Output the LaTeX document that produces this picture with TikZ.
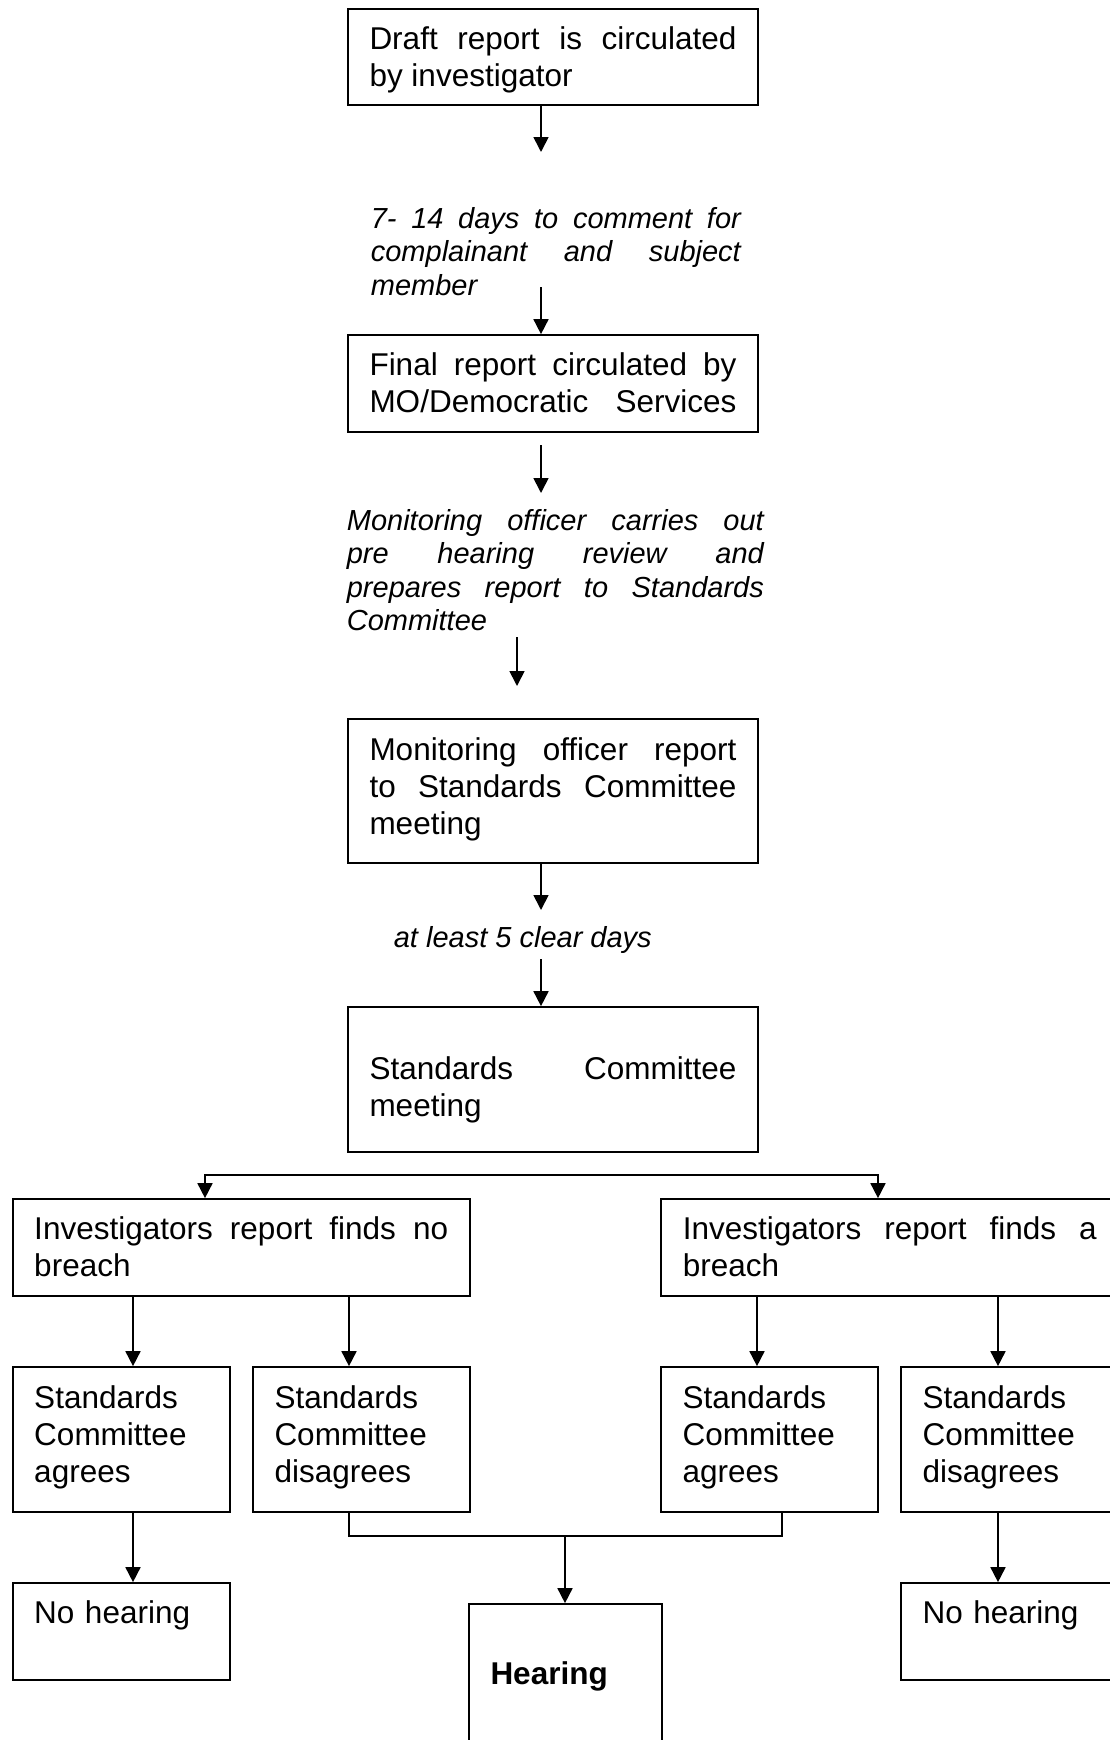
\documentclass[tikz,border=0pt]{standalone}
\usepackage{fontspec}
\setmainfont{Liberation Sans}
\usetikzlibrary{arrows.meta}
\hbadness=10000

\newcommand{\lnstrut}{\rule[-0.212em]{0pt}{1.117em}}
\newcommand{\padtop}[1]{\rule{0pt}{\dimexpr 0.905em+#1\relax}}
\newcommand{\padbot}[1]{\rule[\dimexpr -0.212em-#1\relax]{0pt}{0pt}}

\begin{document}
\begin{tikzpicture}[x=1pt, y=-1pt, line width=1.7pt,
  flowbox/.style={draw, inner xsep=21.5pt, inner ysep=0pt, align=justify,
    font=\fontsize{31.5pt}{37pt}\selectfont},
  widebox/.style={flowbox, text width=367pt},
  smallbox/.style={flowbox, text width=174pt, align=left},
  notetext/.style={anchor=base west, inner sep=0pt, align=justify,
    font=\fontsize{29pt}{33.6pt}\selectfont\itshape},
  flow/.style={-{Triangle[width=15pt,length=15pt]}},
  flows/.style={{Triangle[width=15pt,length=15pt]}-{Triangle[width=15pt,length=15pt]}}]
\useasboundingbox (0,0) rectangle (1110,1740);

\node [widebox, minimum height=96pt] (draft) at (553,57)
  {\lnstrut Draft report is circulated\linebreak by investigator\lnstrut};
\node [notetext, text width=370pt] (comment) at (370,228)
  {7- 14 days to comment for\linebreak complainant and subject\linebreak member};
\node [widebox, minimum height=97pt] (final) at (553,383.5)
  {\lnstrut Final report circulated by\linebreak MO/Democratic\hfill Services\lnstrut};
\node [notetext, text width=417pt] (review) at (346,530)
  {Monitoring officer carries out\linebreak pre hearing review and\linebreak prepares report to Standards\linebreak Committee};
\node [widebox, minimum height=144pt] (moreport) at (553,791)
  {\lnstrut Monitoring officer report\linebreak to Standards Committee\linebreak meeting\padbot{9pt}};
\node [notetext] (notice) at (393,947) {at least 5 clear days};
\node [widebox, minimum height=145pt] (meeting) at (553,1079.5)
  {\padtop{16pt}Standards Committee\linebreak meeting\lnstrut};

\node [flowbox, text width=414pt, minimum height=97pt] (nobreach) at (241.25,1247.5)
  {\lnstrut Investigators report finds no\linebreak breach\lnstrut};
\node [flowbox, text width=414pt, minimum height=97pt] (breach) at (889.75,1247.5)
  {\lnstrut Investigators report finds a\linebreak breach\lnstrut};

\node [smallbox, minimum height=145pt] (agreeno) at (121.25,1439.5)
  {\lnstrut Standards\\Committee\\agrees\padbot{9pt}};
\node [smallbox, minimum height=145pt] (disagreeno) at (361.5,1439.5)
  {\lnstrut Standards\\Committee\\disagrees\padbot{9pt}};
\node [smallbox, minimum height=145pt] (agreeyes) at (769.5,1439.5)
  {\lnstrut Standards\\Committee\\agrees\padbot{9pt}};
\node [smallbox, minimum height=145pt] (disagreeyes) at (1009.5,1439.5)
  {\lnstrut Standards\\Committee\\disagrees\padbot{9pt}};

\node [smallbox, minimum height=97pt] (nohearno) at (121.25,1631.5)
  {\lnstrut No hearing\\\lnstrut};
\node [smallbox, minimum height=97pt] (nohearyes) at (1009.5,1631.5)
  {\lnstrut No hearing\\\lnstrut};
\node [flowbox, text width=150pt, align=left, minimum height=140pt] (hearing) at (565.5,1674)
  {\lnstrut\bfseries Hearing\lnstrut};

\coordinate (a1) at (541,152);
\coordinate (a2) at (541,287);
\coordinate (a3) at (541,445);
\coordinate (a3e) at (541,493);
\coordinate (a4) at (517,637);
\coordinate (a4e) at (517,686);
\coordinate (a5) at (541,910);
\coordinate (a6) at (541,959);
\coordinate (splitno) at (205,1175);
\coordinate (splityes) at (878,1175);
\coordinate (colA) at (133,0);
\coordinate (colB) at (349,0);
\coordinate (colC) at (757,0);
\coordinate (colD) at (998,0);
\coordinate (colE) at (782,0);
\coordinate (merge) at (565,1536);

\draw [flow] ([xshift=-12pt]draft.south) -- (a1);
\draw [flow] (a2) -- (a2 |- final.north);
\draw [flow] (a3) -- (a3e);
\draw [flow] (a4) -- (a4e);
\draw [flow] ([xshift=-12pt]moreport.south) -- (a5);
\draw [flow] (a6) -- (a6 |- meeting.north);

\draw [flows] (splitno |- nobreach.north) -- (splitno) -- (splityes) -- (splityes |- breach.north);

\draw [flow] (nobreach.south -| colA) -- (agreeno.north -| colA);
\draw [flow] (nobreach.south -| colB) -- (disagreeno.north -| colB);
\draw [flow] (breach.south -| colC) -- (agreeyes.north -| colC);
\draw [flow] (breach.south -| colD) -- (disagreeyes.north -| colD);

\draw (disagreeno.south -| colB) |- (merge) -| (agreeyes.south -| colE);
\draw [flow] (merge) -- (merge |- hearing.north);
\draw [flow] (agreeno.south -| colA) -- (nohearno.north -| colA);
\draw [flow] (disagreeyes.south -| colD) -- (nohearyes.north -| colD);
\end{tikzpicture}
\end{document}
